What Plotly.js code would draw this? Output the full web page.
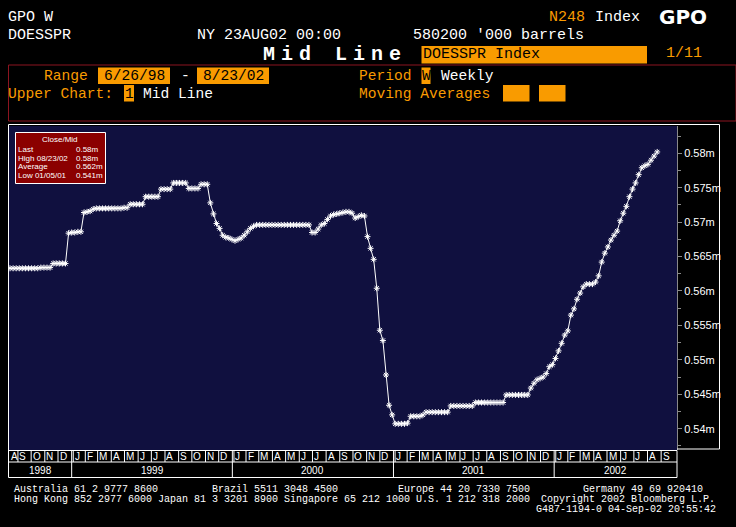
<!DOCTYPE html>
<html><head><meta charset="utf-8">
<script src="https://cdn.plot.ly/plotly-3.0.1.min.js"></script>
<style>html,body{margin:0;padding:0;background:#000;}#chart{width:736px;height:527px;}</style>
</head><body><div id="chart"></div>
<script>
// ---------------- data ----------------
const firstWeek = '1998-08-14';          // first weekly observation (Friday)
const axisStart = '1998-08-11 16:00';
const axisEnd = '2002-10-07';
// DOESSPR weekly mid values, millions of '000 barrels
const midValues = [
  0.5633,0.5633,0.5633,0.5633,0.5633,0.5633,0.5633,0.5633,0.5633,0.5633,
  0.5634,0.5634,0.5634,0.5634,0.5640,0.5640,0.5640,0.5640,0.5640,0.5684,
  0.5685,0.5685,0.5686,0.5686,0.5714,0.5715,0.5716,0.5719,0.5720,0.5720,
  0.5720,0.5720,0.5720,0.5720,0.5720,0.5720,0.5720,0.5721,0.5721,0.5726,
  0.5726,0.5726,0.5726,0.5726,0.5737,0.5737,0.5737,0.5737,0.5737,0.5748,
  0.5748,0.5748,0.5748,0.5757,0.5757,0.5757,0.5757,0.5757,0.5749,0.5749,
  0.5749,0.5749,0.5755,0.5755,0.5755,0.5728,0.5712,0.5698,0.5691,0.5681,
  0.5678,0.5677,0.5675,0.5673,0.5675,0.5677,0.5681,0.5686,0.5691,0.5694,
  0.5696,0.5696,0.5696,0.5696,0.5696,0.5696,0.5696,0.5696,0.5696,0.5696,
  0.5696,0.5696,0.5696,0.5696,0.5696,0.5696,0.5696,0.5696,0.5685,0.5685,
  0.5690,0.5696,0.5698,0.5704,0.5709,0.5711,0.5712,0.5713,0.5714,0.5715,
  0.5715,0.5713,0.5706,0.5708,0.5710,0.5709,0.5679,0.5662,0.5646,0.5604,
  0.5543,0.5528,0.5478,0.5434,0.5420,0.5407,0.5407,0.5407,0.5407,0.5408,
  0.5418,0.5418,0.5418,0.5418,0.5420,0.5424,0.5424,0.5424,0.5424,0.5424,
  0.5424,0.5424,0.5424,0.5433,0.5433,0.5433,0.5433,0.5433,0.5433,0.5433,
  0.5433,0.5438,0.5438,0.5438,0.5438,0.5438,0.5438,0.5438,0.5438,0.5438,
  0.5438,0.5449,0.5449,0.5449,0.5449,0.5449,0.5449,0.5449,0.5449,0.5459,
  0.5466,0.5471,0.5473,0.5475,0.5480,0.5490,0.5493,0.5502,0.5513,0.5524,
  0.5536,0.5542,0.5565,0.5574,0.5588,0.5597,0.5606,0.5610,0.5610,0.5610,
  0.5613,0.5622,0.5642,0.5655,0.5664,0.5674,0.5681,0.5687,0.5702,0.5713,
  0.5723,0.5737,0.5748,0.5757,0.5769,0.5779,0.5782,0.5784,0.5790,0.5796,
  0.5802
];
const yTickVals = [0.54,0.545,0.55,0.555,0.56,0.565,0.57,0.575,0.58];
const yTickText = ['0.54m','0.545m','0.55m','0.555m','0.56m','0.565m','0.57m','0.575m','0.58m'];
const monthLetters = ['J','F','M','A','M','J','J','A','S','O','N','D'];
const bandYears = [1998,1999,2000,2001,2002];

// ---------------- helpers ----------------
const L = 9, T = 126, R = 677, B = 450, W = R - L, H = B - T;
const X = px => (px - L) / W;
const Y = py => (B - py) / H;
const MONO = 'Liberation Mono, DejaVu Sans Mono, monospace';
const SANS = 'Liberation Sans, Arial, sans-serif';
const ORANGE = '#f99b00';
const DAY = 86400000;

const t0 = new Date(firstWeek + 'T00:00:00Z');
const dates = midValues.map((v, i) => {
  const d = new Date(t0.getTime()); d.setUTCDate(d.getUTCDate() + 7 * i);
  return d.toISOString().slice(0, 10);
});
const toMs = s => new Date(s.replace(' ', 'T') + (s.length > 10 ? ':00Z' : 'T00:00:00Z')).getTime();
const msStr = ms => new Date(ms).toISOString().slice(0, 19).replace('T', ' ');
const rs = toMs(axisStart), re = toMs(axisEnd);

function txt(text, px, py, size, color, family, anchor) {
  return {xref:'paper', yref:'paper', x:X(px), y:Y(py), text:text, showarrow:false,
    xanchor:anchor||'left', yanchor:'middle', borderpad:0, borderwidth:0,
    font:{family:family||MONO, size:size, color:color}};
}
function rect(x0, y0, x1, y1, fill, line) {
  return {type:'rect', xref:'paper', yref:'paper', x0:X(x0), x1:X(x1), y0:Y(y0), y1:Y(y1),
    fillcolor:fill||'rgba(0,0,0,0)', line:{color:line||'rgba(0,0,0,0)', width:line?1:0}, layer:'above'};
}
function hline(x0, x1, py, color) {
  return {type:'line', xref:'paper', yref:'paper', x0:X(x0), x1:X(x1), y0:Y(py), y1:Y(py), line:{color:color, width:1}, layer:'above'};
}

const shapes = [], ann = [];

// header
ann.push(txt('GPO W', 8, 17, 15, '#fff'));
ann.push(txt('N248', 549, 17, 15, ORANGE));
ann.push(txt('Index', 595, 17, 15, '#fff'));
ann.push(txt('<b>GPO</b>', 683, 17, 20, '#fff', 'DejaVu Sans, sans-serif', 'center'));
ann.push(txt('DOESSPR', 8, 35, 15, '#fff'));
ann.push(txt('NY 23AUG02 00:00', 197, 35, 15, '#fff'));
ann.push(txt("580200 '000 barrels", 413, 35, 15, '#fff'));
ann.push(txt('<b>Mid Line</b>', 334.5, 55, 20, '#fff', MONO, 'center'));
shapes.push(rect(421.5, 46, 647, 63.5, ORANGE));
ann.push(txt('DOESSPR Index', 423, 55, 15, '#000'));
ann.push(txt('1/11', 666, 54, 15, ORANGE));

shapes.push(rect(8.5, 65, 736, 121, null, '#8c1420'));
ann.push(txt('Range', 44, 76, 14.6, ORANGE));
shapes.push(rect(98, 67.5, 170, 84, ORANGE));
ann.push(txt('6/26/98', 134, 76, 14.6, '#000', MONO, 'center'));
ann.push(txt('-', 181, 76, 14.6, '#fff'));
shapes.push(rect(197, 67.5, 269, 84, ORANGE));
ann.push(txt('8/23/02', 233, 76, 14.6, '#000', MONO, 'center'));
ann.push(txt('Period', 359, 76, 14.6, ORANGE));
shapes.push(rect(421.5, 67.5, 430.5, 84, ORANGE));
ann.push(txt('W', 426, 76, 14.6, '#000', MONO, 'center'));
ann.push(txt('Weekly', 441, 76, 14.6, '#fff'));

ann.push(txt('Upper Chart:', 8, 94, 14.6, ORANGE));
shapes.push(rect(124, 85, 134, 101.5, ORANGE));
ann.push(txt('1', 129, 94, 14.6, '#000', MONO, 'center'));
ann.push(txt('Mid Line', 143, 94, 14.6, '#fff'));
ann.push(txt('Moving Averages', 359, 94, 14.6, ORANGE));
shapes.push(rect(503, 85, 529.5, 101.5, ORANGE));
shapes.push(rect(539, 85, 565.5, 101.5, ORANGE));

// outer white frame
shapes.push({type:'path', xref:'paper', yref:'paper', layer:'above',
  path:'M'+X(8.5)+','+Y(477.5)+' L'+X(8.5)+','+Y(124.5)+' L'+X(719.5)+','+Y(124.5)+' L'+X(719.5)+','+Y(449)+' L'+X(677)+','+Y(449),
  line:{color:'#fff', width:1}});

// legend box (Close/Mid statistics computed from the data)
let hi = 0, lo = 0, sum = 0;
midValues.forEach((v, i) => { if (v > midValues[hi]) hi = i; if (v < midValues[lo]) lo = i; sum += v; });
const fmt = v => parseFloat(v.toFixed(3)) + 'm';
const fmtD = s => s.slice(5,7) + '/' + s.slice(8,10) + '/' + s.slice(2,4);
shapes.push(rect(15.5, 132.5, 105.5, 183.5, '#8b0000', '#fff'));
ann.push(txt('Close/Mid', 60, 139.5, 8, '#fff', SANS, 'center'));
const legRows = [['Last', midValues[midValues.length-1]], ['High ' + fmtD(dates[hi]), midValues[hi]],
                 ['Average', sum / midValues.length], ['Low ' + fmtD(dates[lo]), midValues[lo]]];
legRows.forEach((r, k) => {
  const py = 149.5 + k * 8.5;
  ann.push(txt(r[0], 17.5, py, 8, '#fff', SANS));
  ann.push(txt(fmt(r[1]), 76, py, 8, '#fff', SANS));
});

// month / year band below plot
shapes.push(hline(8.5, 677, 450.5, '#fff'));
shapes.push(hline(8.5, 677, 462, '#fff'));
shapes.push(hline(8.5, 677, 477.5, '#fff'));
shapes.push({type:'line', xref:'paper', yref:'paper', x0:X(677), x1:X(677), y0:Y(450.5), y1:Y(477.5), line:{color:'#fff', width:1}, layer:'above'});
for (let yr = 1998; yr <= 2002; yr++) {
  for (let m = 0; m < 12; m++) {
    const ms = Date.UTC(yr, m, 1), next = Date.UTC(yr, m + 1, 1);
    if (next <= rs || ms >= re) continue;
    const start = Math.max(ms, rs);
    if (re - start < 10 * DAY) continue;   // too narrow a sliver at the axis end
    if (ms > rs) {
      shapes.push({type:'line', xref:'x', yref:'paper', x0:msStr(ms), x1:msStr(ms), y0:Y(450.5), y1:Y(m === 0 ? 477.5 : 462), line:{color:'#fff', width:1}, layer:'above'});
      if (m === 0) shapes.push({type:'line', xref:'x', yref:'paper', xsizemode:'pixel', xanchor:msStr(ms), x0:1.6, x1:1.6, y0:Y(450.5), y1:Y(462), line:{color:'#fff', width:1}, layer:'above'});
    }
    ann.push({xref:'x', yref:'paper', x:msStr(start), y:Y(456.5), text:monthLetters[m], showarrow:false,
      xanchor:'left', yanchor:'middle', xshift:(m === 0 && ms > rs) ? 3 : 1.5, borderpad:0, borderwidth:0,
      font:{family:SANS, size:10, color:'#fff'}});
  }
}
bandYears.forEach(yr => {
  const a = Math.max(Date.UTC(yr, 0, 1), rs), b = Math.min(Date.UTC(yr + 1, 0, 1), re);
  ann.push({xref:'x', yref:'paper', x:msStr((a + b) / 2), y:Y(470), text:String(yr), showarrow:false,
    xanchor:'center', yanchor:'middle', borderpad:0, borderwidth:0, font:{family:SANS, size:10, color:'#fff'}});
});

// footer
ann.push(txt('Australia 61 2 9777 8600', 14, 489, 10, '#fff'));
ann.push(txt('Brazil 5511 3048 4500', 212, 489, 10, '#fff'));
ann.push(txt('Europe 44 20 7330 7500', 398, 489, 10, '#fff'));
ann.push(txt('Germany 49 69 920410', 583, 489, 10, '#fff'));
ann.push(txt('Hong Kong 852 2977 6000 Japan 81 3 3201 8900 Singapore 65 212 1000 U.S. 1 212 318 2000', 14, 499, 10, '#fff'));
ann.push(txt('Copyright 2002 Bloomberg L.P.', 541, 499, 10, '#fff'));
ann.push(txt('G487-1194-0 04-Sep-02 20:55:42', 716, 509, 10, '#fff', MONO, 'right'));

const trace = {
  type:'scatter', mode:'lines+markers', x:dates, y:midValues,
  line:{color:'#fff', width:1},
  marker:{symbol:'asterisk-open', size:5, color:'#fff', line:{color:'#fff', width:1}},
  hoverinfo:'skip'
};

const layout = {
  width:736, height:527,
  margin:{l:L, r:736 - R, t:T, b:527 - B, pad:0},
  paper_bgcolor:'#000', plot_bgcolor:'#10103f',
  showlegend:false,
  xaxis:{type:'date', range:[axisStart, axisEnd], showticklabels:false, ticks:'', showgrid:false, zeroline:false, showline:false, fixedrange:true},
  yaxis:{side:'right', range:[0.53690, 0.58397], tickmode:'array', tickvals:yTickVals, ticktext:yTickText,
    ticks:'outside', ticklen:4, tickcolor:'#8a8a8a', tickwidth:1,
    showline:true, linecolor:'#8a8a8a', linewidth:1, showgrid:false, zeroline:false,
    tickfont:{family:SANS, size:11, color:'#fff'},
    minor:{tickmode:'linear', tick0:0.5375, dtick:0.005, ticks:'outside', ticklen:3, tickcolor:'#8a8a8a', showgrid:false},
    fixedrange:true},
  shapes:shapes, annotations:ann
};
Plotly.newPlot('chart', [trace], layout, {staticPlot:true, displayModeBar:false}).then(gd => {
  // Bloomberg's title face is widely spaced
  gd.querySelectorAll('.annotation-text').forEach(el => {
    if (el.textContent === 'Mid Line' && el.querySelector('b, tspan[style*="bold"]')) el.style.letterSpacing = '6px';
  });
});
</script></body></html>
